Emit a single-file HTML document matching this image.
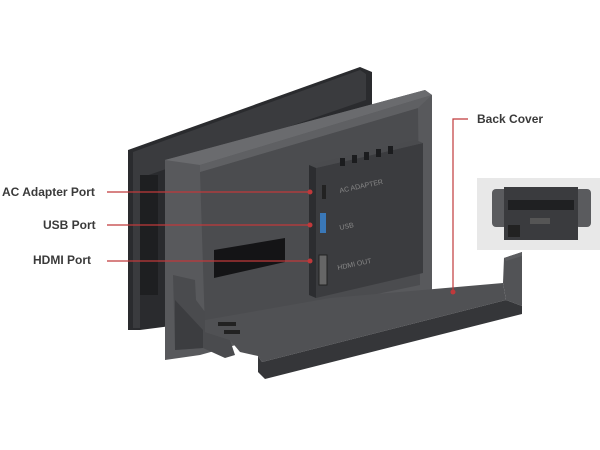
<!DOCTYPE html>
<html><head><meta charset="utf-8"><style>
html,body{margin:0;padding:0;background:#fff;width:600px;height:450px;overflow:hidden}
svg{display:block}
text{font-family:"Liberation Sans",sans-serif;font-weight:bold;fill:#3a3a3a;font-size:12px}
</style></head><body>
<svg width="600" height="450" viewBox="0 0 600 450">
<!-- back frame -->
<polygon points="128,150 360,67 372,72 372,300 140,330 128,330" fill="#2a2b2e"/>
<polygon points="133,152 360,70 366,74 366,100 140,178 140,328 133,328" fill="#3a3b3e"/>
<rect x="140" y="175" width="18" height="120" fill="#1e1f21"/>
<!-- front box outer -->
<polygon points="165,160 425,90 432,95 432,290 200,355 165,360" fill="#58595c"/>
<polygon points="165,160 425,90 432,95 200,165" fill="#6a6b6e"/>
<!-- inner wall -->
<polygon points="200,172 418,108 420,285 205,330" fill="#4b4c4f"/>
<polygon points="200,165 432,95 418,108 200,172" fill="#5f6063"/>
<!-- HDMI slot -->
<polygon points="214,250 285,238 285,262 214,278" fill="#141416"/>
<!-- port module -->
<polygon points="316,168 423,143 423,273 316,298" fill="#3b3c3f"/>
<polygon points="316,168 423,143 416,140 309,165" fill="#4a4b4e"/>
<polygon points="309,165 316,168 316,298 309,295" fill="#2c2d30"/>
<g fill="#1b1c1e">
<rect x="340" y="158" width="5" height="8"/><rect x="352" y="155" width="5" height="8"/><rect x="364" y="152" width="5" height="8"/><rect x="376" y="149" width="5" height="8"/><rect x="388" y="146" width="5" height="8"/>
</g>
<rect x="322" y="185" width="4" height="14" fill="#222"/>
<rect x="320" y="213" width="6" height="20" fill="#3a78b8"/>
<rect x="319" y="255" width="8" height="30" fill="#666" stroke="#222"/>
<text x="340" y="193" style="font-size:7px;fill:#888;font-weight:normal" transform="rotate(-12 340 193)">AC ADAPTER</text>
<text x="340" y="230" style="font-size:7px;fill:#888;font-weight:normal" transform="rotate(-12 340 230)">USB</text>
<text x="338" y="270" style="font-size:7px;fill:#888;font-weight:normal" transform="rotate(-12 338 270)">HDMI OUT</text>
<!-- left lower side of box with notch -->
<polygon points="173,275 195,280 196,300 205,312 205,332 230,340 235,355 225,358 203,348 175,350" fill="#4a4b4e"/>
<polygon points="175,300 203,330 203,348 175,350" fill="#3c3d40"/>
<!-- floor top surface -->
<polygon points="205,320 330,298 503,283 506,300 262,362 258,356 240,352 230,340 205,332" fill="#505154"/>
<!-- right lip -->
<polygon points="503,283 504,258 522,252 522,306 506,300" fill="#525356"/>
<polygon points="504,258 522,252 522,256 506,261" fill="#5c5d60"/>
<!-- front face -->
<polygon points="262,362 506,300 522,306 522,314 265,379 258,372 258,356" fill="#353639"/>
<rect x="218" y="322" width="18" height="4" fill="#222"/><rect x="224" y="330" width="16" height="4" fill="#222"/>
<!-- lines -->
<g stroke="#c0393b" stroke-width="1.2" fill="none">
<line x1="107" y1="192" x2="310" y2="192"/>
<line x1="107" y1="225" x2="310" y2="225"/>
<line x1="107" y1="261" x2="310" y2="261"/>
<polyline points="468,119 453,119 453,292"/>
</g>
<g fill="#c0393b"><circle cx="310" cy="192" r="2.5"/><circle cx="310" cy="225" r="2.5"/><circle cx="310" cy="261" r="2.5"/><circle cx="453" cy="292" r="2.5"/></g>
<text x="2" y="196">AC Adapter Port</text>
<text x="43" y="229">USB Port</text>
<text x="33" y="264">HDMI Port</text>
<text x="477" y="123">Back Cover</text>
<!-- inset -->
<rect x="477" y="178" width="123" height="72" fill="#e8e8e8"/>
<rect x="492" y="189" width="16" height="38" rx="4" fill="#5a5b5e"/>
<rect x="575" y="189" width="16" height="38" rx="4" fill="#5a5b5e"/>
<rect x="504" y="187" width="74" height="53" fill="#3a3b3e"/>
<rect x="508" y="200" width="66" height="10" fill="#1f2022"/>
<rect x="530" y="218" width="20" height="6" fill="#555"/>
<rect x="508" y="225" width="12" height="12" fill="#222"/>
</svg>
</body></html>
